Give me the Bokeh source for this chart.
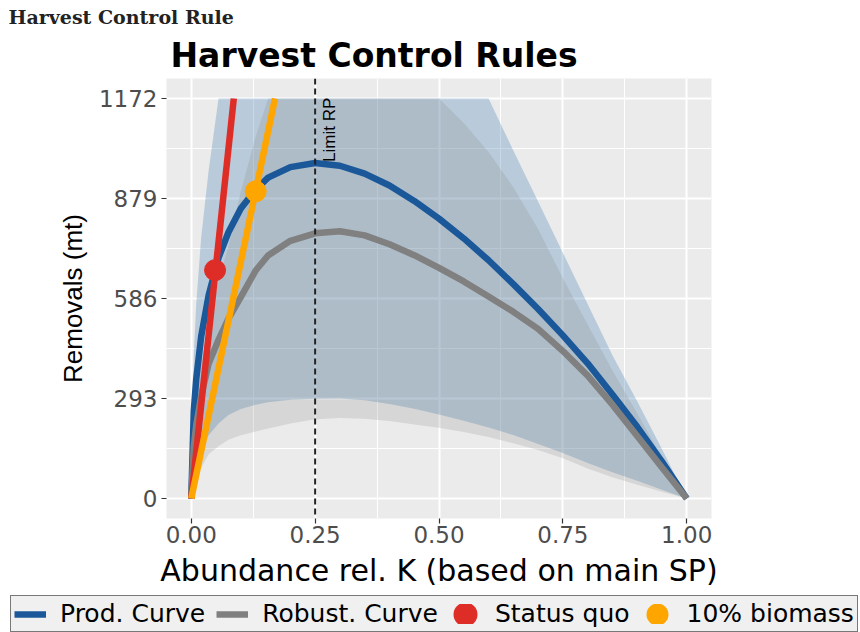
from math import pi
from bokeh.plotting import figure
from bokeh.layouts import column
from bokeh.models import (ColumnDataSource, FixedTicker, NumeralTickFormatter, Span,
                          Label, Legend, LegendItem, Range1d, Title)
from bokeh.embed import file_html
from bokeh.resources import INLINE

# ---------------- data ----------------
abundance = [0, 0.005, 0.01, 0.02, 0.035, 0.055, 0.075, 0.1, 0.13, 0.155, 0.2, 0.25, 0.3,
             0.35, 0.4, 0.45, 0.5, 0.55, 0.6, 0.65, 0.7, 0.75, 0.8, 0.85, 0.9, 0.95, 1.0]
prod_curve = [0, 255, 350, 475, 595, 705, 780, 850, 905, 940, 971, 983, 975, 952, 917, 872,
              820, 762, 698, 628, 555, 478, 396, 305, 210, 108, 0]
robust_curve = [0, 150, 215, 300, 395, 465, 527, 590, 668, 712, 755, 777, 783, 771, 745, 713,
                676, 636, 592, 547, 497, 432, 360, 275, 183, 91, 0]
prod_lower = [0, 50, 90, 140, 185, 220, 245, 262, 275, 282, 289, 292, 293, 288, 277, 263,
              246, 228, 208, 186, 160, 133, 104, 77, 52, 26, 0]
prod_upper = [0, 420, 570, 765, 960, 1172, 1172, 1172, 1172, 1172, 1172, 1172, 1172, 1172,
              1172, 1172, 1172, 1172, 1172, 1020, 870, 720, 570, 420, 285, 145, 0]
robust_lower = [0, 30, 55, 90, 130, 153, 172, 185, 196, 205, 220, 232, 236, 234, 227, 217,
                207, 195, 180, 162, 142, 118, 88, 62, 40, 20, 0]
robust_upper = [0, 200, 280, 390, 520, 640, 740, 900, 1060, 1172, 1172, 1172, 1172, 1172,
                1172, 1172, 1172, 1100, 1015, 912, 790, 645, 510, 375, 250, 120, 0]

status_quo_x = [0.0, 0.0858]
status_quo_y = [0, 1172]
biomass10_x = [0.0, 0.169]
biomass10_y = [0, 1172]
status_quo_pt_x = [0.048]
status_quo_pt_y = [669]
biomass10_pt_x = [0.130]
biomass10_pt_y = [900]

limit_rp = 0.25
limit_label_y = 986
x_ticks = [0, 0.25, 0.5, 0.75, 1.0]
y_ticks = [0, 293, 586, 879, 1172]
legend_labels = ["Prod. Curve", "Robust. Curve", "Status quo", "10% biomass"]

# ---------------- styles ----------------
BLUE = "#1B5899"
GRAY = "#808080"
RED = "#DE2D26"
ORANGE = "#FFA500"
SANS = "DejaVu Sans"
NAN = float("nan")

src = ColumnDataSource(dict(x=abundance, prod=prod_curve, robust=robust_curve,
                            pl=prod_lower, pu=prod_upper, rl=robust_lower, ru=robust_upper))

p = figure(width=860, height=595, output_backend="svg", toolbar_location=None,
           x_range=Range1d(-0.05, 1.05), y_range=Range1d(-58.6, 1230.6),
           min_border_left=166, min_border_right=149, min_border_top=78,
           min_border_bottom=77)
p.title = None
p.frame_align = False
p.background_fill_color = "#EBEBEB"
p.border_fill_color = "white"
p.outline_line_color = None

x_minor = [(a + b) / 2 for a, b in zip(x_ticks[:-1], x_ticks[1:])]
y_minor = [(a + b) / 2 for a, b in zip(y_ticks[:-1], y_ticks[1:])]
p.xaxis.ticker = FixedTicker(ticks=x_ticks, minor_ticks=x_minor)
p.yaxis.ticker = FixedTicker(ticks=y_ticks, minor_ticks=y_minor)
p.xaxis.formatter = NumeralTickFormatter(format="0.00")

for g in (p.xgrid, p.ygrid):
    g.grid_line_color = "white"
    g.grid_line_width = 2
    g.minor_grid_line_color = "white"
    g.minor_grid_line_width = 1

for ax in (p.xaxis, p.yaxis):
    ax.axis_line_color = None
    ax.major_tick_line_color = "#333333"
    ax.major_tick_line_width = 1.2
    ax.major_tick_out = 5
    ax.major_tick_in = 0
    ax.minor_tick_line_color = None
    ax.major_label_text_font = SANS
    ax.major_label_text_font_size = "23px"
    ax.major_label_text_color = "#4D4D4D"
    ax.axis_label_text_font_style = "normal"
    ax.axis_label_text_color = "black"

p.xaxis.major_label_standoff = 2
p.yaxis.major_label_standoff = 4
p.xaxis.axis_label = "Abundance rel. K (based on main SP)"
p.xaxis.axis_label_text_font = SANS
p.xaxis.axis_label_text_font_size = "30px"
p.xaxis.axis_label_standoff = 7
p.yaxis.axis_label = "Removals (mt)"
p.yaxis.axis_label_text_font = "Liberation Sans"
p.yaxis.axis_label_text_font_size = "26px"
p.yaxis.axis_label_standoff = 8

# ribbons
p.varea(x="x", y1="pl", y2="pu", source=src, fill_color="steelblue", fill_alpha=0.3)
p.varea(x="x", y1="rl", y2="ru", source=src, fill_color=GRAY, fill_alpha=0.2)

# reference line
p.add_layout(Span(location=limit_rp, dimension="height", line_color="#222222",
                  line_width=2, line_dash="6 4"))

# curves
p.line(x="x", y="prod", source=src, line_color=BLUE, line_width=6.5)
p.line(x="x", y="robust", source=src, line_color=GRAY, line_width=6.5)
p.line(status_quo_x, status_quo_y, line_color=RED, line_width=6.5)
p.line(biomass10_x, biomass10_y, line_color=ORANGE, line_width=6.5)
p.scatter(status_quo_pt_x, status_quo_pt_y, marker="circle", size=21,
          fill_color=RED, line_color=RED)
p.scatter(biomass10_pt_x, biomass10_pt_y, marker="circle", size=21,
          fill_color=ORANGE, line_color=ORANGE)

p.add_layout(Label(x=limit_rp, y=limit_label_y, text="Limit RP", angle=pi / 2,
                   text_font="Liberation Sans", text_font_size="17px", text_color="black",
                   text_align="left", text_baseline="top", x_offset=5))

# titles
p.add_layout(Title(text="Harvest Control Rules", align="left", offset=4, standoff=8,
                   text_font=SANS, text_font_style="bold", text_font_size="33px",
                   text_color="black"), "above")
p.add_layout(Title(text="Harvest Control Rule", align="left", offset=-158, standoff=3,
                   text_font="DejaVu Serif", text_font_style="bold",
                   text_font_size="19px", text_color="#222222"), "above")

# ---------------- legend strip below the plot ----------------
lf = figure(width=860, height=37, output_backend="svg", toolbar_location=None,
            x_range=Range1d(0, 1), y_range=Range1d(0, 1),
            x_axis_type=None, y_axis_type=None,
            min_border_left=0, min_border_right=0, min_border_top=0, min_border_bottom=0)
lf.title = None
lf.frame_align = False
lf.outline_line_color = None
lf.grid.visible = False
lf.background_fill_color = "white"
lf.border_fill_color = "white"

k_prod = lf.line(x=[NAN], y=[NAN], line_color=BLUE, line_width=6.5)
k_rob = lf.line(x=[NAN], y=[NAN], line_color=GRAY, line_width=6.5)
# zero-length round-capped dash -> a dot centred in the key
k_sq = lf.line(x=[NAN], y=[NAN], line_color=RED, line_width=24, line_cap="round",
               line_dash="0 200", line_dash_offset=-16)
k_bm = lf.line(x=[NAN], y=[NAN], line_color=ORANGE, line_width=22, line_cap="round",
               line_dash="0 200", line_dash_offset=-16)

legend = Legend(items=[LegendItem(label=legend_labels[0], renderers=[k_prod]),
                       LegendItem(label=legend_labels[1], renderers=[k_rob]),
                       LegendItem(label=legend_labels[2], renderers=[k_sq]),
                       LegendItem(label=legend_labels[3], renderers=[k_bm])],
                orientation="horizontal", location=(10, 0),
                glyph_width=32, glyph_height=20, label_standoff=14, spacing=11,
                padding=3, margin=0,
                label_text_font=SANS, label_text_font_size="25px",
                label_text_color="black",
                border_line_color="black", border_line_width=1.5,
                background_fill_color="#F0F0F0", background_fill_alpha=1)
lf.add_layout(legend, "center")

open("out.html", "w").write(file_html(column(p, lf, spacing=0), INLINE))
